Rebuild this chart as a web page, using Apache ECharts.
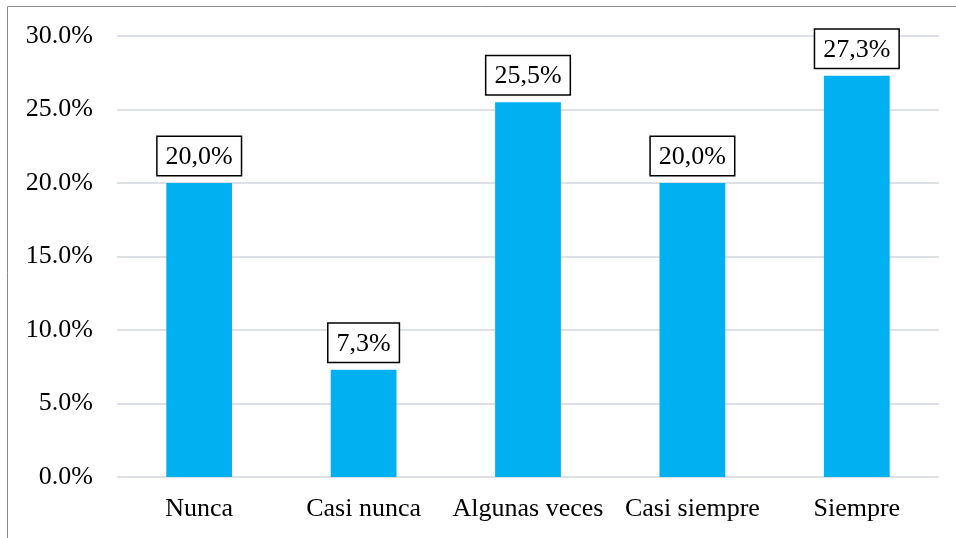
<!DOCTYPE html>
<html><head><meta charset="utf-8">
<script src="https://cdn.jsdelivr.net/npm/echarts@6/dist/echarts.min.js"></script>
<style>html,body{margin:0;padding:0;background:#fff}#c{width:956px;height:538px}</style>
</head><body><div id="c"></div>
<script>
const categories = ['Nunca', 'Casi nunca', 'Algunas veces', 'Casi siempre', 'Siempre'];
const values = [20.0, 7.3, 25.5, 20.0, 27.3];
const valueLabels = ['20,0%', '7,3%', '25,5%', '20,0%', '27,3%'];
const font = '"Liberation Serif", "Times New Roman", serif';
const chart = echarts.init(document.getElementById('c'));
chart.setOption({
  animation: false,
  backgroundColor: '#fff',
  grid: { left: 117, right: 17, top: 36, bottom: 61 },
  graphic: [{
    type: 'polyline', shape: { points: [[7.5, 538], [7.5, 6.5], [956, 6.5]] },
    style: { stroke: '#8c8c8c', lineWidth: 1, fill: null }
  }],
  xAxis: {
    type: 'category', data: categories,
    axisLine: { show: false }, axisTick: { show: false },
    axisLabel: { color: '#000', fontFamily: font, fontSize: 26, margin: 19, interval: 0 }
  },
  yAxis: {
    type: 'value', min: 0, max: 30, interval: 5,
    axisLine: { show: false }, axisTick: { show: false },
    splitLine: { lineStyle: { color: '#dde1e6', width: 2 } },
    axisLabel: { color: '#000', fontFamily: font, fontSize: 26, margin: 24,
      formatter: v => v.toFixed(1) + '%' }
  },
  series: [{
    type: 'bar', data: values, barWidth: '40%',
    itemStyle: { color: '#00B0F0' },
    label: {
      show: true, position: 'top', distance: 8,
      formatter: p => valueLabels[p.dataIndex],
      color: '#000', fontFamily: font, fontSize: 26,
      backgroundColor: '#fff', borderColor: '#000', borderWidth: 1.5,
      padding: [7, 8, 5, 8]
    }
  }]
});
</script></body></html>
